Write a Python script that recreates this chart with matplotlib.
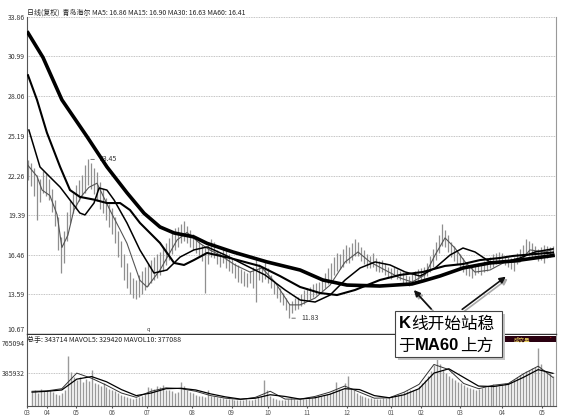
import matplotlib
matplotlib.use("Agg")
import matplotlib.pyplot as plt
import numpy as np
from matplotlib.patches import Rectangle, FancyArrowPatch

plt.rcParams['font.family'] = ['Noto Sans CJK SC', 'DejaVu Sans']

# ---------------- data ----------------
highs = [23.4,23.2,22.8,22.3,22.0,22.6,22.4,22.0,21.3,20.5,
         19.2,17.8,18.2,19.6,20.4,21.0,21.6,21.9,22.3,23.0,
         23.45,23.2,22.8,22.5,21.8,21.3,20.6,20.2,19.9,19.2,
         18.2,17.5,16.5,15.9,15.2,14.8,14.6,15.0,15.3,15.6,
         15.9,16.1,16.3,16.5,16.7,17.0,17.3,17.7,18.1,18.4,
         18.5,18.7,18.9,18.6,18.3,18.0,17.8,17.5,17.2,17.0,
         17.2,17.6,17.4,16.8,16.6,16.9,16.8,16.5,16.2,15.9,
         15.7,15.4,15.3,15.1,15.3,15.6,16.2,15.8,15.6,16.1,
         15.5,15.0,14.5,14.2,14.0,13.7,13.3,12.9,13.1,13.3,
         13.4,13.6,13.9,14.0,14.1,14.3,14.4,14.5,14.8,15.1,
         15.5,15.9,16.3,16.6,16.5,16.9,17.2,17.0,17.3,17.6,
         17.4,17.0,16.8,16.5,16.4,16.6,16.2,16.0,16.1,15.9,
         15.6,15.5,15.6,15.4,15.3,15.2,15.0,14.9,15.1,15.3,
         15.4,15.5,15.6,15.9,16.4,16.9,17.4,17.9,18.7,18.3,
         17.9,17.4,17.1,16.8,16.5,16.2,15.9,15.7,15.6,15.8,
         15.9,15.8,16.0,16.2,16.3,16.5,16.6,16.7,16.6,16.4,
         16.3,16.2,16.3,16.6,16.9,17.2,17.6,17.5,17.3,17.1,
         16.9,17.0,17.2,17.1,17.0,17.1]
lows = [21.9,21.5,20.8,19.0,20.3,21.0,20.8,20.5,19.6,18.6,
        16.8,15.1,15.9,17.5,18.8,19.5,19.9,20.4,20.8,21.0,
        21.6,21.3,20.9,20.4,19.8,19.5,19.0,18.5,18.0,17.3,
        16.3,15.6,14.6,14.0,13.6,13.3,13.2,13.4,13.6,13.9,
        14.2,14.4,14.6,14.8,15.0,15.3,15.7,16.1,16.5,16.8,
        17.0,17.3,17.5,17.3,17.0,16.8,16.6,16.3,16.0,13.7,
        15.8,16.3,16.2,15.8,15.6,15.9,15.5,15.3,15.1,14.8,
        14.5,14.4,14.2,14.1,14.4,14.0,13.0,14.6,14.5,14.7,
        14.4,14.0,13.6,13.3,13.0,12.8,12.4,11.83,12.2,12.4,
        12.5,12.7,12.9,13.1,13.2,13.4,13.5,13.6,13.8,14.0,
        14.3,14.6,15.0,15.3,15.4,15.6,15.9,15.9,16.1,16.4,
        16.4,16.0,15.8,15.5,15.5,15.6,15.3,15.2,15.2,15.0,
        14.8,14.7,14.9,14.7,14.6,14.4,14.3,14.2,14.3,14.5,
        14.4,14.6,14.7,14.9,15.2,15.6,16.1,16.6,17.1,17.0,
        16.7,16.3,16.0,15.8,15.5,15.2,15.0,14.9,14.8,15.0,
        15.1,15.0,15.2,15.3,15.5,15.6,15.8,15.9,15.9,15.7,
        15.6,15.4,15.3,15.8,16.0,16.3,16.5,16.4,16.3,16.2,
        16.0,16.1,15.9,16.2,16.3,16.4]

ma5_x = [0, 3, 4.7, 7.3, 9.7, 11.3, 13.3, 15.3, 18, 20.3, 23, 27.3, 30.7, 33, 37.3, 39.7, 44, 49.7,
         53, 57.3, 60.7, 64, 69, 74, 78, 82.3, 87.3, 90.7, 95.7, 100.7, 105.7, 110, 114, 119, 124,
         128, 132.3, 135.7, 139, 142.3, 145.7, 149, 154, 159, 164, 167.3, 172.3, 175]
ma5 = [23.0, 22.2, 21.2, 20.8, 19.4, 17.0, 17.9, 19.74, 20.8, 21.4, 21.7, 19.74, 18.3, 17.3, 14.6,
       14.1, 15.35, 17.55, 18.1, 17.3, 16.8, 16.45, 15.72, 15.2, 15.5, 14.47, 12.8, 12.8, 13.3, 14.25,
       15.94, 16.67, 15.94, 15.35, 14.77, 14.47, 14.99, 16.45, 17.7, 16.96, 15.94, 15.2, 15.35, 15.94,
       15.94, 16.82, 16.67, 16.86]
ma15_x = [0.3, 4, 7.3, 10.7, 14, 17.3, 19, 22, 23.7, 26.3, 28.7, 33, 37.3, 42, 46.3, 50.7, 55.3, 59.7,
          65.7, 72.3, 79, 85.7, 90.7, 95.7, 100.7, 105.7, 110.7, 115.7, 120.7, 125.7, 130.7, 135.7,
          140.7, 145, 149, 154, 159, 164, 169, 175]
ma15 = [25.59, 22.89, 22.16, 21.42, 20.47, 19.52, 19.38, 20.25, 21.35, 21.2, 20.47, 18.79, 16.82,
        15.13, 15.35, 16.3, 16.82, 17.04, 16.45, 15.72, 14.99, 13.89, 13.16, 13.01, 13.52, 14.62,
        15.5, 15.94, 15.72, 15.21, 14.91, 15.5, 16.45, 16.96, 16.67, 15.94, 15.94, 16.23, 16.67, 16.90]
ma30_x = [0, 3, 6.3, 10.7, 14, 17.3, 22, 26.3, 30.7, 34, 37.3, 44, 48.7, 52, 55.3, 59.7, 67.3, 77.3,
          84, 90.7, 97.3, 103, 109, 117.3, 124, 131.7, 139, 145, 150.7, 157.3, 161.7, 169, 175]
ma30 = [29.6, 27.8, 25.4, 22.9, 21.2, 20.7, 20.5, 20.25, 20.25, 19.74, 18.8, 17.33, 15.87, 15.72,
        16.08, 16.6, 16.23, 15.64, 14.91, 14.11, 13.67, 13.52, 13.89, 14.62, 14.99, 15.21, 15.65,
        15.79, 16.08, 16.23, 16.38, 16.52, 16.63]
ma60_x = [0, 5, 11.3, 19.7, 26.3, 33, 38.7, 44, 48.7, 55.3, 59.7, 68.3, 79.7, 90.7, 98.3, 106.3,
          117.3, 128, 131.7, 137.3, 145, 154, 161.7, 169, 175]
ma60 = [32.7, 30.9, 27.8, 25.1, 22.9, 21.0, 19.5, 18.5, 18.06, 17.77, 17.3, 16.67, 15.94, 15.35,
        14.62, 14.25, 14.18, 14.33, 14.55, 14.91, 15.5, 15.87, 16.01, 16.23, 16.41]

volume = [160,180,150,200,170,190,180,160,140,130,
          150,190,573,397,330,300,340,280,310,290,
          420,270,250,230,260,220,200,190,170,150,
          130,110,100,90,80,90,100,120,140,220,
          210,200,230,220,240,190,180,170,150,160,
          280,230,190,160,150,130,120,110,100,180,
          120,110,100,90,90,80,85,80,75,70,
          70,75,80,70,65,80,100,120,300,180,
          110,90,80,70,70,75,80,90,80,75,
          80,80,85,90,95,100,110,120,130,140,
          150,170,280,200,180,260,350,210,180,150,
          130,110,100,90,90,80,80,85,90,95,
          100,110,120,130,140,160,170,180,190,200,
          230,260,300,350,400,470,608,480,420,380,
          350,320,300,280,260,240,220,210,200,190,
          200,210,220,230,240,250,240,230,250,260,
          270,290,310,340,360,380,400,420,440,450,
          666,480,420,400,380,343.714]
mavol_x = list(range(0, 176, 5))
mavol5 = [170,175,200,380,320,240,150,100,170,210,200,170,120,90,75,100,170,80,
          80,110,160,230,160,90,95,160,250,480,420,260,200,240,260,370,460,329.42]
mavol10 = [160,170,185,310,340,280,190,120,150,200,205,185,140,105,80,90,130,110,
           80,95,135,200,190,120,95,130,200,380,430,330,230,225,250,330,420,377.088]

price_ticks = [33.86, 30.99, 28.06, 25.19, 22.26, 19.39, 16.46, 13.59, 10.67]
vol_ticks = [765094, 385932]
month_labels = ['03','04','05','06','07','08','09','10','11','12','01','02','03','04','05']
month_pos = [-1.7, 5.0, 14.7, 27.0, 38.7, 53.7, 67.0, 79.3, 92.3, 105.7, 120.7, 130.7, 143.7, 158.0, 171.3]

header = '日线(复权)  青岛海尔 MA5: 16.86 MA15: 16.90 MA30: 16.63 MA60: 16.41'
vol_header = '总手: 343714 MAVOL5: 329420 MAVOL10: 377088'

# ---------------- figure ----------------
W, H = 562, 417
fig = plt.figure(figsize=(W/100, H/100), dpi=100)
fig.patch.set_facecolor('white')

def fx(px):
    return px / W
def fy(py):
    return 1 - py / H

xl, xr = 27, 556
ax = fig.add_axes([fx(xl), fy(334), fx(xr) - fx(xl), fy(17) - fy(334)])
axv = fig.add_axes([fx(xl), fy(406), fx(xr) - fx(xl), fy(335) - fy(406)])

n = len(highs)
x = np.arange(n)
xlim = (-0.33, 176.0)

# price panel
ax.set_xlim(*xlim)
ax.set_ylim(10.67, 33.86)
for t in price_ticks:
    ax.axhline(t, color='#b0b0b0', lw=0.6, ls=(0, (1, 1)), zorder=0)
ax.vlines(x, lows, highs, color='#8f8f8f', lw=0.9, zorder=2)
ax.plot(ma5_x, ma5, color='#555555', lw=0.8, zorder=3)
ax.plot(ma15_x, ma15, color='black', lw=1.1, zorder=3)
ax.plot(ma30_x, ma30, color='black', lw=1.5, zorder=3)
ax.plot(ma60_x, ma60, color='black', lw=2.6, zorder=4)
ax.set_yticks(price_ticks)
ax.set_yticklabels([f'{t:.2f}' for t in price_ticks])
ax.tick_params(axis='y', length=0, labelsize=5, pad=1.5, labelcolor='#333333')
ax.get_yticklabels()[-1].set_va('bottom')
ax.set_xticks([])
ax.spines['top'].set_visible(False)
ax.spines['left'].set_color('#555555')
ax.spines['right'].set_color('#999999')
ax.spines['bottom'].set_color('#333333')
ax.spines['bottom'].set_linewidth(1.0)
ax.text(0.0, 1.0, header, transform=ax.transAxes, fontsize=5, va='bottom', ha='left',
        color='#222222')
ax.annotate('23.45', xy=(20, 23.45), xytext=(24, 23.45), fontsize=5,
            va='center', ha='left', color='#333333',
            arrowprops=dict(arrowstyle='-', color='#333333', lw=0.5))
ax.annotate('11.83', xy=(87, 11.83), xytext=(91, 11.83), fontsize=5,
            va='center', ha='left', color='#333333',
            arrowprops=dict(arrowstyle='-', color='#333333', lw=0.5))
ax.text(40, 11.0, 'q', fontsize=4, color='#333333', ha='center', va='center')

# volume panel
axv.set_xlim(*xlim)
axv.set_ylim(0, 820000)
vol = np.array(volume) * 1000
axv.vlines(x, 0, vol, color='#9a9a9a', lw=1.0, zorder=2)
axv.plot(mavol_x, np.array(mavol5) * 1000, color='#333333', lw=0.7, zorder=3)
axv.plot(mavol_x, np.array(mavol10) * 1000, color='black', lw=0.9, zorder=3)
axv.axhline(vol_ticks[1], color='#b0b0b0', lw=0.6, ls=(0, (1, 1)), zorder=0)
axv.set_yticks(vol_ticks)
axv.set_yticklabels([str(v) for v in vol_ticks])
axv.tick_params(axis='y', length=0, labelsize=5, pad=1.5, labelcolor='#333333')
axv.get_yticklabels()[0].set_va('top')
axv.set_xticks(month_pos)
axv.set_xticklabels(month_labels)
axv.tick_params(axis='x', length=1.5, labelsize=4.5, pad=0.5, labelcolor='#555555', color='#555555')
axv.spines['top'].set_visible(False)
axv.spines['left'].set_color('#555555')
axv.spines['right'].set_color('#999999')
axv.spines['bottom'].set_color('#555555')
axv.text(0.0, 0.985, vol_header, transform=axv.transAxes, fontsize=5, va='top', ha='left',
         color='#222222')

# 成交量 tag
fig.patches.append(Rectangle((fx(502), fy(342)), fx(556) - fx(502), fy(336) - fy(342),
                             transform=fig.transFigure, facecolor='#2a0010', edgecolor='none', zorder=5))
fig.text(fx(522), fy(339), '成交量', fontsize=4, color='#e8d060', ha='center', va='center', zorder=6)
fig.text(fx(551), fy(339), '•', fontsize=4, color='#d02020', ha='center', va='center', zorder=6)

# annotation box with shadow
fig.patches.append(Rectangle((fx(398), fy(360)), fx(505) - fx(398), fy(314) - fy(360),
                             transform=fig.transFigure, facecolor='#c4c4c4', edgecolor='none', zorder=7))
fig.patches.append(Rectangle((fx(395), fy(357)), fx(502) - fx(395), fy(311) - fy(357),
                             transform=fig.transFigure, facecolor='white', edgecolor='#444444',
                             lw=0.8, zorder=8))
renderer = fig.canvas.get_renderer()

def seq_text(pieces, px, py):
    cur = px
    for s, bold in pieces:
        kw = dict(fontsize=12, ha='left', va='center', zorder=9)
        if bold:
            kw.update(fontweight='bold', family=['Liberation Sans', 'DejaVu Sans'])
        t = fig.text(fx(cur), fy(py), s, **kw)
        bb = t.get_window_extent(renderer)
        cur = bb.x1 + 0.5

seq_text([('K', True), ('线开始站稳', False)], 399, 324)
seq_text([('于', False), ('MA60', True), ('上方', False)], 398, 346)

# arrows (shadow + black)
for (x0, y0, x1, y1) in [(433, 311, 412, 288), (460, 311, 508, 275)]:
    sh = FancyArrowPatch((fx(x0 + 2), fy(y0 + 2)), (fx(x1 + 2), fy(y1 + 2)),
                         transform=fig.transFigure, arrowstyle='-|>', mutation_scale=9,
                         color='#aaaaaa', lw=1.2, zorder=6)
    fig.patches.append(sh)
    ar = FancyArrowPatch((fx(x0), fy(y0)), (fx(x1), fy(y1)),
                         transform=fig.transFigure, arrowstyle='-|>', mutation_scale=9,
                         color='#111111', lw=1.2, zorder=7)
    fig.patches.append(ar)

fig.savefig('out.png', dpi=100, facecolor='white')
